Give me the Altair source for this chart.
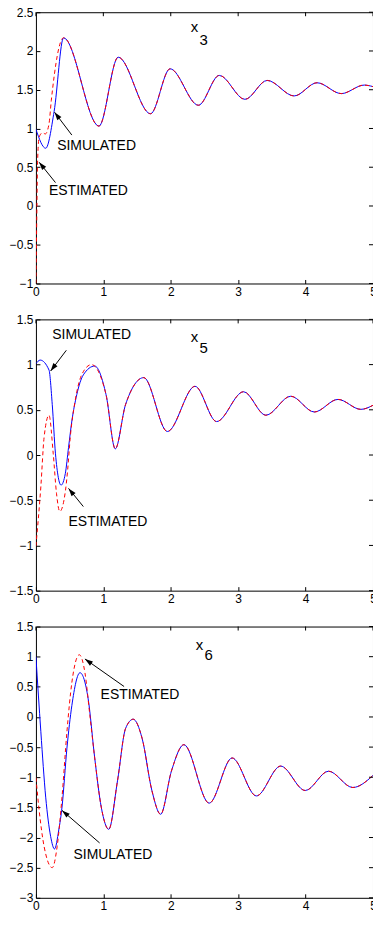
import math
import altair as alt
import pandas as pd

FONT = "Liberation Sans"
W, H = 338, 272
x_ticks = [0, 1, 2, 3, 4, 5]

# ---------------- panel x3 ----------------
x3_y_domain = [-1, 2.5]
x3_y_ticks = [-1, -0.5, 0, 0.5, 1, 1.5, 2, 2.5]
x3_sim_t = [0, 0.145, 0.27, 0.41, 0.935, 1.22, 1.70, 1.99, 2.41, 2.72, 3.10, 3.43, 3.83, 4.17, 4.53, 4.87, 5.0]
x3_sim_v = [0.99, 0.745, 1.22, 2.17, 1.03, 1.92, 1.19, 1.77, 1.30, 1.685, 1.376, 1.62, 1.42, 1.59, 1.45, 1.56, 1.54]
x3_est_head_t = [0, 0.015, 0.024, 0.048, 0.097, 0.14, 0.194, 0.228]
x3_est_head_v = [-1.0, 0.0, 0.556, 0.89, 0.944, 0.93, 1.06, 1.36]
x3_join = 3
x3_notes = [("SIMULATED", 0.315, 0.716), ("ESTIMATED", 0.194, 0.141)]
x3_arrows = [(0.533, 0.915, 0.276, 1.21), (0.29, 0.302, 0.048, 0.564)]
x3_name = [("x", 2.297, 2.24), ("3", 2.427, 2.078)]

# ---------------- panel x5 ----------------
x5_y_domain = [-1.5, 1.5]
x5_y_ticks = [-1.5, -1, -0.5, 0, 0.5, 1, 1.5]
x5_sim_t = [0, 0.063, 0.194, 0.242, 0.29, 0.373, 0.436, 0.484, 0.533, 0.606, 0.703, 0.872, 1.04, 1.177,
            1.33, 1.6, 1.95, 2.36, 2.68, 3.08, 3.41, 3.78, 4.13, 4.48, 4.82, 5.0]
x5_sim_v = [1.01, 1.05, 0.94, 0.56, 0.013, -0.333, -0.205, 0.085, 0.376, 0.668, 0.886, 0.984, 0.668, 0.068,
            0.559, 0.856, 0.26, 0.76, 0.37, 0.70, 0.44, 0.65, 0.476, 0.615, 0.505, 0.55]
x5_est_head_t = [0, 0.073, 0.121, 0.194, 0.257, 0.305, 0.354, 0.436, 0.47, 0.509, 0.581, 0.678, 0.824]
x5_est_head_v = [-1.006, -0.35, 0.194, 0.44, 0.013, -0.423, -0.624, -0.405, -0.17, 0.194, 0.595, 0.886, 1.0]
x5_join = 12
x5_notes = [("SIMULATED", 0.243, 1.28), ("ESTIMATED", 0.484, -0.788)]
x5_arrows = [(0.451, 1.158, 0.218, 0.929), (0.703, -0.57, 0.484, -0.369)]
x5_name = [("x", 2.297, 1.249), ("5", 2.427, 1.132)]

# ---------------- panel x6 ----------------
x6_y_domain = [-3, 1.5]
x6_y_ticks = [-3, -2.5, -2, -1.5, -1, -0.5, 0, 0.5, 1, 1.5]
x6_sim_t = [0, 0.073, 0.145, 0.218, 0.276, 0.339, 0.387, 0.46, 0.533, 0.654, 0.775, 0.872, 0.969, 1.08,
            1.21, 1.33, 1.443, 1.575, 1.72, 1.85, 2.01, 2.195, 2.57, 2.91, 3.27, 3.63, 3.995, 4.34, 4.70, 5.0]
x6_sim_v = [1.0, -0.245, -1.33, -1.98, -2.19, -1.875, -1.495, -0.517, 0.19, 0.734, 0.3, -0.68, -1.495, -1.864,
            -1.06, -0.19, -0.037, -0.354, -1.22, -1.614, -0.897, -0.46, -1.43, -0.68, -1.31, -0.815, -1.22,
            -0.90, -1.17, -0.97]
x6_est_head_t = [0, 0.048, 0.121, 0.242, 0.315, 0.387, 0.46, 0.533, 0.644, 0.727, 0.8]
x6_est_head_v = [-1.006, -1.55, -2.147, -2.5, -2.147, -1.33, -0.245, 0.571, 1.032, 0.734, 0.028]
x6_join = 11
x6_notes = [("ESTIMATED", 0.959, 0.298), ("SIMULATED", 0.557, -2.364)]
x6_arrows = [(1.308, 0.505, 0.727, 0.962), (0.945, -2.09, 0.387, -1.55)]
x6_name = [("x", 2.37, 1.109), ("6", 2.5, 0.946)]

ARROW_PATH = "M0,0L-2.6,8L2.6,8Z"
TICK = 4


def make_panel(sim_t, sim_v, est_t, est_v, ydom, yticks, notes, arrows, name):
    xs = alt.Scale(domain=[0, 5], nice=False, zero=False)
    ys = alt.Scale(domain=ydom, nice=False, zero=False)
    common = dict(title=None, domain=False, grid=False, tickSize=TICK, offset=-TICK,
                  tickColor="black", tickWidth=1, minExtent=0,
                  labelFont=FONT, labelFontSize=12, labelColor="black", labelFlush=False,
                  labelOverlap=False, format="~g", labelPadding=3)
    ax_bottom = alt.Axis(orient="bottom", values=x_ticks, **common)
    ax_left = alt.Axis(orient="left", values=yticks, **common)

    def X(f):
        return alt.X(f, scale=xs, axis=ax_bottom)

    def Y(f):
        return alt.Y(f, scale=ys, axis=ax_left)

    sim = pd.DataFrame({"t": sim_t, "v": sim_v})
    est = pd.DataFrame({"t": est_t, "v": est_v})

    sim_line = alt.Chart(sim).mark_line(color="#0000ff", strokeWidth=1, interpolate="monotone",
                                        clip=True).encode(x=X("t:Q"), y=Y("v:Q"))
    est_line = alt.Chart(est).mark_line(color="#ff0000", strokeWidth=1, strokeDash=[4, 3],
                                        interpolate="monotone", clip=True).encode(x=X("t:Q"), y=Y("v:Q"))

    # inward ticks on the top and right edges
    top_ticks = alt.Chart(pd.DataFrame({"t": x_ticks})).mark_rule(color="black", strokeWidth=1).encode(
        x=X("t:Q"), y=alt.value(0), y2=alt.value(TICK))
    right_ticks = alt.Chart(pd.DataFrame({"v": yticks})).mark_rule(color="black", strokeWidth=1).encode(
        y=Y("v:Q"), x=alt.value(W - TICK), x2=alt.value(W))

    ky = H / (ydom[1] - ydom[0])
    kx = W / 5.0
    rows = []
    for t0, v0, t1, v1 in arrows:
        dx = (t1 - t0) * kx
        dy = -(v1 - v0) * ky
        ang = math.degrees(math.atan2(dx, -dy)) % 360
        rows.append({"t0": t0, "v0": v0, "t1": t1, "v1": v1, "angle": ang})
    adf = pd.DataFrame(rows)
    rules = alt.Chart(adf).mark_rule(color="black", strokeWidth=1).encode(
        x=X("t0:Q"), y=Y("v0:Q"), x2="t1:Q", y2="v1:Q")
    heads = alt.Chart(adf).mark_point(shape=ARROW_PATH, filled=True, color="black", size=4,
                                      opacity=1, strokeWidth=0).encode(
        x=X("t1:Q"), y=Y("v1:Q"), angle=alt.Angle("angle:Q", scale=None))

    ndf = pd.DataFrame([{"label": a, "t": b, "v": c} for a, b, c in notes])
    texts = alt.Chart(ndf).mark_text(align="left", baseline="alphabetic", font=FONT, fontSize=14,
                                     color="black").encode(x=X("t:Q"), y=Y("v:Q"), text="label:N")

    mdf = pd.DataFrame([{"label": a, "t": b, "v": c} for a, b, c in name])
    names = alt.Chart(mdf).mark_text(align="left", baseline="alphabetic", font=FONT, fontSize=15,
                                     color="black").encode(x=X("t:Q"), y=Y("v:Q"), text="label:N")

    return alt.layer(sim_line, est_line, top_ticks, right_ticks, rules, heads, texts, names).properties(
        width=W, height=H)


p3 = make_panel(x3_sim_t, x3_sim_v, x3_est_head_t + x3_sim_t[x3_join:], x3_est_head_v + x3_sim_v[x3_join:],
                x3_y_domain, x3_y_ticks, x3_notes, x3_arrows, x3_name)
p5 = make_panel(x5_sim_t, x5_sim_v, x5_est_head_t + x5_sim_t[x5_join:], x5_est_head_v + x5_sim_v[x5_join:],
                x5_y_domain, x5_y_ticks, x5_notes, x5_arrows, x5_name)
p6 = make_panel(x6_sim_t, x6_sim_v, x6_est_head_t + x6_sim_t[x6_join:], x6_est_head_v + x6_sim_v[x6_join:],
                x6_y_domain, x6_y_ticks, x6_notes, x6_arrows, x6_name)

chart = alt.vconcat(p3, p5, p6, spacing=14).properties(
    padding={"left": 0, "top": -4, "right": -4, "bottom": 0},
    background="white",
).configure_view(stroke="black", strokeWidth=1)

chart.save("out.html", embed_options={"renderer": "svg", "actions": False})
